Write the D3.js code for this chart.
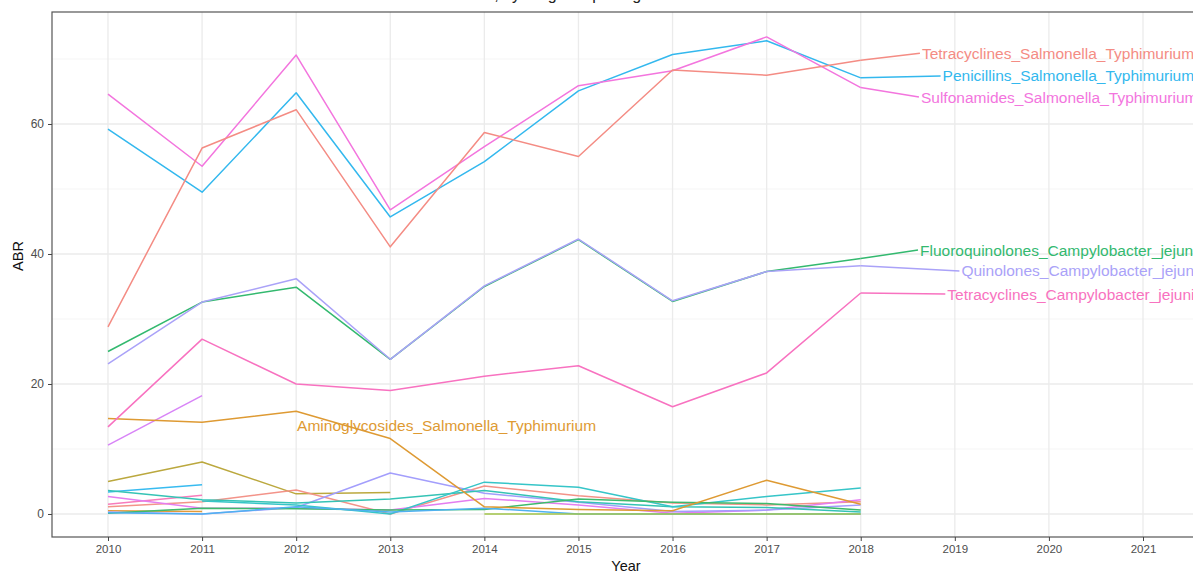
<!DOCTYPE html>
<html>
<head>
<meta charset="utf-8">
<script src="https://cdn.jsdelivr.net/npm/d3@7"></script>
<style>
  html, body { margin: 0; padding: 0; background: #fff; }
  svg { display: block; font-family: "Liberation Sans", Arial, sans-serif; }
</style>
</head>
<body>
<svg id="chart" width="1193" height="573"></svg>
<script>
// ---------- data ----------
const years = [2010, 2011, 2012, 2013, 2014, 2015, 2016, 2017, 2018];
const xTickYears = [2010, 2011, 2012, 2013, 2014, 2015, 2016, 2017, 2018, 2019, 2020, 2021];
const yTickValues = [0, 20, 40, 60];
const yMinorValues = [10, 30, 50, 70];

const tetracyclinesSalmonella   = [28.8, 56.3, 62.2, 41.1, 58.7, 55.0, 68.3, 67.5, 69.8];
const penicillinsSalmonella     = [59.2, 49.5, 64.8, 45.7, 54.2, 65.1, 70.7, 72.8, 67.1];
const sulfonamidesSalmonella    = [64.6, 53.5, 70.6, 46.8, 56.5, 65.9, 68.2, 73.4, 65.6];
const fluoroquinolonesCampy     = [25.0, 32.6, 34.9, 23.8, 35.0, 42.2, 32.7, 37.3, 39.3];
const quinolonesCampy           = [23.1, 32.6, 36.2, 23.8, 35.1, 42.3, 32.8, 37.3, 38.2];
const tetracyclinesCampy        = [13.4, 26.9, 20.0, 19.0, 21.2, 22.8, 16.5, 21.7, 34.0];
const aminoglycosidesSalmonella = [14.7, 14.1, 15.8, 11.6, 1.1, 0.7, 0.5, 5.2, 1.5];

// unlabeled low-level series
const otherA = [5.0, 8.0, 3.1, 3.3, null, null, null, null, null];
const otherB = [10.6, 18.2, null, null, null, null, null, null, null];
const otherC = [3.4, 4.5, null, null, null, null, null, null, null];
const otherD = [0.5, 0.4, null, null, null, null, null, null, null];
const otherE = [1.5, 2.9, null, null, null, null, null, null, null];
const otherF = [1.1, 1.9, 3.7, 0.0, 4.3, 2.8, 1.7, 1.4, 1.9];
const otherG = [2.7, 0.9, 0.9, 0.6, 2.4, 1.4, 0.1, 0.6, 2.2];
const otherH = [0.3, 0.0, 1.0, 6.3, 3.2, 1.8, 0.4, 0.6, 1.4];
const otherI = [3.6, 2.2, 1.7, 2.3, 3.6, 1.9, 1.1, 1.0, 0.3];
const otherJ = [null, 2.0, 1.4, 0.0, 4.9, 4.1, 1.1, 2.7, 4.0];
const otherK = [0.1, 0.9, 0.8, 0.6, 0.7, 2.3, 1.8, 1.6, 0.6];
const otherL = [0.2, 0.0, 1.1, 0.3, 0.9, 0.0, 0.0, 0.0, 0.0];
const otherM = [null, null, null, null, 0.0, 0.0, 0.0, 0.0, 0.0];

const labelNames = [
  "Tetracyclines_Salmonella_Typhimurium",
  "Penicillins_Salmonella_Typhimurium",
  "Sulfonamides_Salmonella_Typhimurium",
  "Fluoroquinolones_Campylobacter_jejuni",
  "Quinolones_Campylobacter_jejuni",
  "Tetracyclines_Campylobacter_jejuni",
  "Aminoglycosides_Salmonella_Typhimurium"
];
// label anchor in data units (year, ABR)
const labelYears  = [2018.65, 2018.87, 2018.64, 2018.63, 2019.07, 2018.92, 2012.01];
const labelValues = [70.9, 67.4, 64.15, 40.6, 37.4, 33.85, 13.7];

// ---------- styles ----------
const series = [
  {values: otherA, color: "#BBA83E"},
  {values: otherB, color: "#D884F7"},
  {values: otherC, color: "#38BBF0"},
  {values: otherD, color: "#E39A3A"},
  {values: otherE, color: "#F77CBB"},
  {values: otherF, color: "#F39389"},
  {values: otherG, color: "#E47EF0"},
  {values: otherH, color: "#A39EFC"},
  {values: otherI, color: "#35C3B5"},
  {values: otherJ, color: "#36C5C8"},
  {values: otherK, color: "#3DBA6C"},
  {values: otherL, color: "#4FB1F0"},
  {values: otherM, color: "#A2C44A"},
  {values: aminoglycosidesSalmonella, color: "#DE9A33", label: 6},
  {values: fluoroquinolonesCampy, color: "#33B96F", label: 3},
  {values: penicillinsSalmonella, color: "#33B8EE", label: 1},
  {values: quinolonesCampy, color: "#AAA2F8", label: 4},
  {values: sulfonamidesSalmonella, color: "#F375DE", label: 2},
  {values: tetracyclinesCampy, color: "#F872C0", label: 5},
  {values: tetracyclinesSalmonella, color: "#F48C84", label: 0}
];

// ---------- layout ----------
const panel = {left: 52, right: 1199, top: 12, bottom: 537};

const x = d3.scaleLinear().domain([2009.405, 2021.595]).range([panel.left, panel.right]);
const y = d3.scaleLinear().domain([-3.54, 77.23]).range([panel.bottom, panel.top]);

const svg = d3.select("#chart");

// title (cropped at the top, as in the reference)
svg.append("text")
  .attr("x", 525).attr("y", 0)
  .attr("text-anchor", "middle")
  .attr("font-size", 16).attr("fill", "#222")
  .text("ABR over time, by drug and pathogen");

const grid = svg.append("g");
grid.selectAll("line.ymin").data(yMinorValues).join("line")
  .attr("x1", panel.left).attr("x2", panel.right)
  .attr("y1", d => y(d)).attr("y2", d => y(d))
  .attr("stroke", "#F2F2F2").attr("stroke-width", 0.8);
grid.selectAll("line.ymaj").data(yTickValues).join("line")
  .attr("x1", panel.left).attr("x2", panel.right)
  .attr("y1", d => y(d)).attr("y2", d => y(d))
  .attr("stroke", "#EBEBEB").attr("stroke-width", 1.3);
grid.selectAll("line.xmaj").data(xTickYears).join("line")
  .attr("x1", d => x(d)).attr("x2", d => x(d))
  .attr("y1", panel.top).attr("y2", panel.bottom)
  .attr("stroke", "#EBEBEB").attr("stroke-width", 1.3);

// lines
const line = d3.line()
  .defined(d => d[1] != null)
  .x(d => x(d[0])).y(d => y(d[1]));

const linesG = svg.append("g");
series.forEach(s => {
  linesG.append("path")
    .datum(years.map((yr, i) => [yr, s.values[i]]))
    .attr("d", line)
    .attr("fill", "none")
    .attr("stroke", s.color)
    .attr("stroke-width", 1.5)
    .attr("stroke-linejoin", "round");
});

// labels with segments
const labG = svg.append("g");
series.filter(s => s.label != null).forEach(s => {
  const i = s.label;
  const lx = x(labelYears[i]), ly = y(labelValues[i]);
  if (i !== 6) {
    const last = s.values[s.values.length - 1];
    labG.append("line")
      .attr("x1", x(years[years.length - 1])).attr("y1", y(last))
      .attr("x2", lx - 2).attr("y2", ly)
      .attr("stroke", s.color).attr("stroke-width", 1.5);
  }
  labG.append("text")
    .attr("x", lx).attr("y", ly).attr("dy", "0.36em")
    .attr("font-size", 15.5)
    .attr("fill", s.color)
    .text(labelNames[i]);
});

// panel border
svg.append("rect")
  .attr("x", panel.left).attr("y", panel.top)
  .attr("width", panel.right - panel.left).attr("height", panel.bottom - panel.top)
  .attr("fill", "none").attr("stroke", "#555").attr("stroke-width", 1.2);

// axes
const xAxis = d3.axisBottom(x).tickValues(xTickYears).tickFormat(d3.format("d")).tickSize(4).tickPadding(4);
const gx = svg.append("g").attr("transform", `translate(0,${panel.bottom})`).call(xAxis);
gx.select(".domain").remove();
gx.selectAll("line").attr("stroke", "#444");
gx.selectAll("text").attr("font-size", 11.5).attr("fill", "#4D4D4D")
  .attr("font-family", "Liberation Sans, Arial, sans-serif");

const yAxis = d3.axisLeft(y).tickValues(yTickValues).tickSize(4).tickPadding(4);
const gy = svg.append("g").attr("transform", `translate(${panel.left},0)`).call(yAxis);
gy.select(".domain").remove();
gy.selectAll("line").attr("stroke", "#444");
gy.selectAll("text").attr("font-size", 12).attr("fill", "#4D4D4D")
  .attr("font-family", "Liberation Sans, Arial, sans-serif");

// axis titles
svg.append("text")
  .attr("x", 626).attr("y", 571)
  .attr("text-anchor", "middle").attr("font-size", 14.5).attr("fill", "#111")
  .text("Year");
svg.append("text")
  .attr("transform", "translate(23,256) rotate(-90)")
  .attr("text-anchor", "middle").attr("font-size", 14.5).attr("fill", "#111")
  .text("ABR");
</script>
</body>
</html>
